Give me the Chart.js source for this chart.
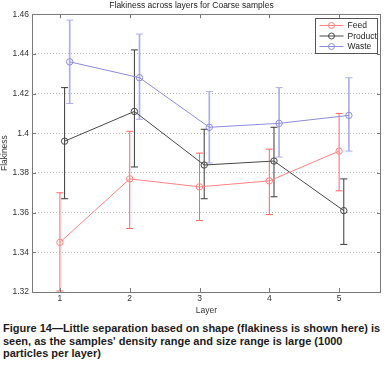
<!DOCTYPE html>
<html>
<head>
<meta charset="utf-8">
<title>Flakiness across layers</title>
<script src="https://cdn.jsdelivr.net/npm/chart.js@4/dist/chart.umd.min.js"></script>
<style>
  body { margin: 0; background: #fff; }
  #wrap { position: relative; width: 386px; height: 318px; }
  #caption {
    font-family: "Liberation Sans", Arial, sans-serif;
    font-weight: bold;
    font-size: 11px;
    line-height: 12.7px;
    color: #1c1c1c;
    padding: 4px 0 0 3px;
    width: 386px;
    white-space: nowrap;
  }
</style>
</head>
<body>
<div id="wrap"><canvas id="flakChart"></canvas></div>
<div id="caption">Figure 14—Little separation based on shape (flakiness is shown here) is<br>seen, as the samples' density range and size range is large (1000<br>particles per layer)</div>

<script>
// data
const layers = [1, 2, 3, 4, 5];
const yTicks = [1.32, 1.34, 1.36, 1.38, 1.40, 1.42, 1.44, 1.46];

const feedMean = [1.345, 1.377, 1.373, 1.376, 1.391];
const feedLow  = [1.3205, 1.352, 1.356, 1.359, 1.371];
const feedHigh = [1.370, 1.401, 1.390, 1.392, 1.410];

const productMean = [1.396, 1.411, 1.384, 1.386, 1.361];
const productLow  = [1.367, 1.383, 1.367, 1.368, 1.344];
const productHigh = [1.423, 1.442, 1.402, 1.403, 1.377];

const wasteMean = [1.436, 1.428, 1.403, 1.405, 1.409];
const wasteLow  = [1.415, 1.407, 1.385, 1.388, 1.391];
const wasteHigh = [1.457, 1.450, 1.421, 1.423, 1.428];

// small horizontal shift per series, like in the original plot
const productShift = 0.067;
const wasteShift = 0.14;

const FONT = '"Liberation Sans", Arial, sans-serif';

function points(mean, shift) {
  return layers.map((l, i) => ({ x: l + shift, y: mean[i] }));
}

function makeSet(label, mean, low, high, shift, lineColor, barColor, barWidth) {
  return {
    label: label,
    data: points(mean, shift),
    low: low,
    high: high,
    barColor: barColor,
    barWidth: barWidth,
    borderColor: lineColor,
    borderWidth: 1,
    backgroundColor: 'rgba(0,0,0,0)',
    pointBorderColor: lineColor,
    pointBackgroundColor: 'rgba(0,0,0,0)',
    pointRadius: 3.2,
    pointBorderWidth: 1,
    tension: 0,
    fill: false
  };
}

// error bars drawn with the chart's own scales
const errorBars = {
  id: 'errorBars',
  beforeDatasetsDraw(chart) {
    const ctx = chart.ctx;
    const xs = chart.scales.x;
    const ys = chart.scales.y;
    const a = chart.chartArea;
    ctx.save();
    ctx.beginPath();
    ctx.rect(a.left, a.top, a.right - a.left, a.bottom - a.top);
    ctx.clip();
    chart.data.datasets.forEach(ds => {
      ctx.strokeStyle = ds.barColor;
      ctx.lineWidth = ds.barWidth;
      ds.data.forEach((p, i) => {
        const x = xs.getPixelForValue(p.x);
        const yl = ys.getPixelForValue(ds.low[i]);
        const yh = ys.getPixelForValue(ds.high[i]);
        ctx.beginPath();
        ctx.moveTo(x, yl); ctx.lineTo(x, yh);
        ctx.stroke();
        ctx.lineWidth = 1;
        ctx.beginPath();
        ctx.moveTo(x - 3.5, yl); ctx.lineTo(x + 3.5, yl);
        ctx.moveTo(x - 3.5, yh); ctx.lineTo(x + 3.5, yh);
        ctx.stroke();
        ctx.lineWidth = ds.barWidth;
      });
    });
    ctx.restore();
  }
};

// matlab style box, inward ticks and legend
const boxAndLegend = {
  id: 'boxAndLegend',
  afterDraw(chart) {
    const ctx = chart.ctx;
    const a = chart.chartArea;
    const xs = chart.scales.x;
    const ys = chart.scales.y;
    ctx.save();
    ctx.strokeStyle = '#7a7a7a';
    ctx.lineWidth = 1;
    ctx.strokeRect(Math.round(a.left) + 0.5, Math.round(a.top) + 0.5,
      Math.round(a.right - a.left) - 1, Math.round(a.bottom - a.top));
    ctx.beginPath();
    layers.forEach(l => {
      const x = Math.round(xs.getPixelForValue(l)) + 0.5;
      ctx.moveTo(x, a.bottom); ctx.lineTo(x, a.bottom - 4);
      ctx.moveTo(x, a.top); ctx.lineTo(x, a.top + 4);
    });
    yTicks.forEach(v => {
      const y = Math.round(ys.getPixelForValue(v)) + 0.5;
      ctx.moveTo(a.left, y); ctx.lineTo(a.left + 4, y);
      ctx.moveTo(a.right, y); ctx.lineTo(a.right - 4, y);
    });
    ctx.stroke();

    // legend box
    const bw = 62, bh = 35;
    const bx = Math.round(a.right) - 65.5, by = Math.round(a.top) + 4.5;
    ctx.fillStyle = '#fff';
    ctx.fillRect(bx, by, bw, bh);
    ctx.strokeStyle = '#555';
    ctx.strokeRect(bx, by, bw, bh);
    ctx.font = '8.5px ' + FONT;
    ctx.textBaseline = 'middle';
    chart.data.datasets.forEach((ds, i) => {
      const y = by + 7 + i * 10.5;
      ctx.strokeStyle = ds.borderColor;
      ctx.beginPath();
      ctx.moveTo(bx + 4, y); ctx.lineTo(bx + 28, y);
      ctx.stroke();
      ctx.beginPath();
      ctx.arc(bx + 16, y, 3, 0, Math.PI * 2);
      ctx.stroke();
      ctx.fillStyle = '#222';
      ctx.fillText(ds.label, bx + 32, y + 0.5);
    });
    ctx.restore();
  }
};

document.addEventListener('DOMContentLoaded', function() {
  const ctx = document.getElementById('flakChart').getContext('2d');

  new Chart(ctx, {
    type: 'line',
    data: {
      datasets: [
        makeSet('Feed', feedMean, feedLow, feedHigh, 0,
          'rgb(255,130,130)', 'rgb(255,100,100)', 1),
        makeSet('Product', productMean, productLow, productHigh, productShift,
          '#484848', '#3a3a3a', 1),
        makeSet('Waste', wasteMean, wasteLow, wasteHigh, wasteShift,
          'rgb(140,140,218)', 'rgb(175,175,235)', 1.7)
      ]
    },
    options: {
      responsive: true,
      maintainAspectRatio: false,
      animation: false,
      layout: { padding: { left: 0, right: 3, top: 0, bottom: 0 } },
      plugins: {
        legend: { display: false },
        tooltip: { enabled: false },
        title: {
          display: true,
          text: 'Flakiness across layers for Coarse samples',
          color: '#222',
          font: { family: FONT, size: 8.5, weight: 'normal' },
          padding: { top: 1, bottom: 3 }
        }
      },
      scales: {
        x: {
          type: 'linear',
          min: 0.6,
          max: 5.6,
          afterFit: s => { s.height = 26; },
          afterBuildTicks: s => { s.ticks = layers.map(v => ({ value: v })); },
          grid: { display: false, drawTicks: false },
          border: { display: false },
          ticks: {
            color: '#333',
            padding: 2,
            font: { family: FONT, size: 8.5 }
          },
          title: {
            display: true,
            text: 'Layer',
            color: '#333',
            font: { family: FONT, size: 8.5 },
            padding: { top: 0, bottom: 2 }
          }
        },
        y: {
          min: 1.32,
          max: 1.46,
          afterFit: s => { s.width = 32; },
          afterBuildTicks: s => { s.ticks = yTicks.map(v => ({ value: v })); },
          grid: {
            color: '#b8b8b8',
            drawTicks: false,
            lineWidth: 1
          },
          border: { display: false, dash: [1, 2] },
          ticks: {
            color: '#333',
            padding: 3,
            font: { family: FONT, size: 8.5 },
            callback: v => String(Number(v.toFixed(2)))
          },
          title: {
            display: true,
            text: 'Flakiness',
            color: '#333',
            font: { family: FONT, size: 8.5 },
            padding: { top: 0, bottom: 0 }
          }
        }
      }
    },
    plugins: [errorBars, boxAndLegend]
  });
});
</script>
</body>
</html>
